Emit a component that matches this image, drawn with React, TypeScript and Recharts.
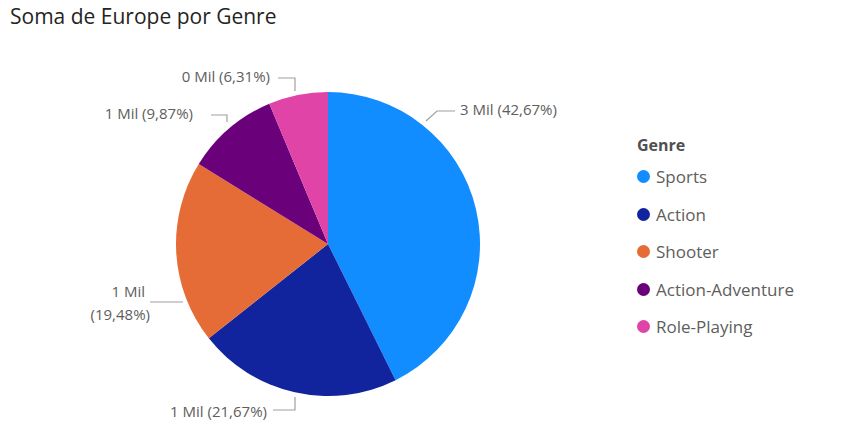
import { Pie, PieChart, Cell } from 'recharts';

const GENRES = ['Sports', 'Action', 'Shooter', 'Action-Adventure', 'Role-Playing'];
const SHARES = [42.67, 21.67, 19.48, 9.87, 6.31];
const MIL_LABELS = ['3 Mil', '1 Mil', '1 Mil', '1 Mil', '0 Mil'];
const COLORS = ['#118DFF', '#12239E', '#E66C37', '#6B007B', '#E044A7'];

const data = GENRES.map((g, i) => ({ name: g, value: SHARES[i] }));

const pct = (v: number) => v.toFixed(2).replace('.', ',') + '%';

// leader-line layout, relative to pie centre (Power BI style)
const LAYOUT = [
  { pts: [[98, -123], [109, -133], [127, -133]], tx: 132, ty: -133, anchor: 'start' },
  { pts: [[-33, 153], [-33, 166], [-55, 166]], tx: -61, ty: 169, anchor: 'end' },
  { pts: [[-145, 58], [-160, 58], [-178, 58]], tx: -183, ty: 51, anchor: 'end' },
  { pts: [[-101, -122], [-101, -129], [-117, -129]], tx: -135, ty: -129, anchor: 'end' },
  { pts: [[-33, -153], [-33, -166], [-50, -166]], tx: -58, ty: -166, anchor: 'end' },
];

function renderLabel(props: any) {
  const { cx, cy, index, value } = props;
  const l = LAYOUT[index];
  const d = l.pts.map((p, i) => `${i ? 'L' : 'M'}${cx + p[0]},${cy + p[1]}`).join(' ');
  const x = cx + l.tx;
  const y = cy + l.ty;
  const style = { fontSize: 15, fill: '#605E5C', fontFamily: 'Open Sans, sans-serif' };
  return (
    <g key={index}>
      <path d={d} stroke="#A0A0A0" fill="none" strokeWidth={1.2} />
      {index === 2 ? (
        <text x={x} y={y} textAnchor="end" dominantBaseline="middle" style={style}>
          <tspan x={x} dy={-2}>{MIL_LABELS[index]}</tspan>
          <tspan x={x + 5} dy={23}>({pct(value)})</tspan>
        </text>
      ) : (
        <text x={x} y={y} textAnchor={l.anchor as any} dominantBaseline="middle" style={style}>
          {MIL_LABELS[index]} ({pct(value)})
        </text>
      )}
    </g>
  );
}

export default function App() {
  return (
    <div style={{ position: 'relative', width: 855, height: 431, margin: -8, background: '#fff', fontFamily: 'Open Sans, sans-serif' }}>
      <div style={{ position: 'absolute', left: 10, top: 2, fontSize: 21, color: '#252423' }}>
        Soma de Europe por Genre
      </div>
      <PieChart width={855} height={431} style={{ position: 'absolute', left: 0, top: 0 }}>
        <Pie
          data={data}
          dataKey="value"
          cx={323}
          cy={239}
          outerRadius={152}
          startAngle={90}
          endAngle={-270}
          stroke="none"
          label={renderLabel}
          labelLine={false}
          isAnimationActive={false}
        >
          {data.map((d, i) => (
            <Cell key={d.name} fill={COLORS[i]} />
          ))}
        </Pie>
      </PieChart>
      <div style={{ position: 'absolute', left: 637, top: 134, color: '#605E5C' }}>
        <div style={{ fontWeight: 700, fontSize: 16, height: 24, color: '#505050' }}>Genre</div>
        {GENRES.map((g, i) => (
          <div key={g} style={{ display: 'flex', alignItems: 'center', height: 37.5, fontSize: 17 }}>
            <span style={{ width: 13, height: 13, borderRadius: '50%', background: COLORS[i], marginRight: 6, display: 'inline-block' }} />
            {g}
          </div>
        ))}
      </div>
    </div>
  );
}
